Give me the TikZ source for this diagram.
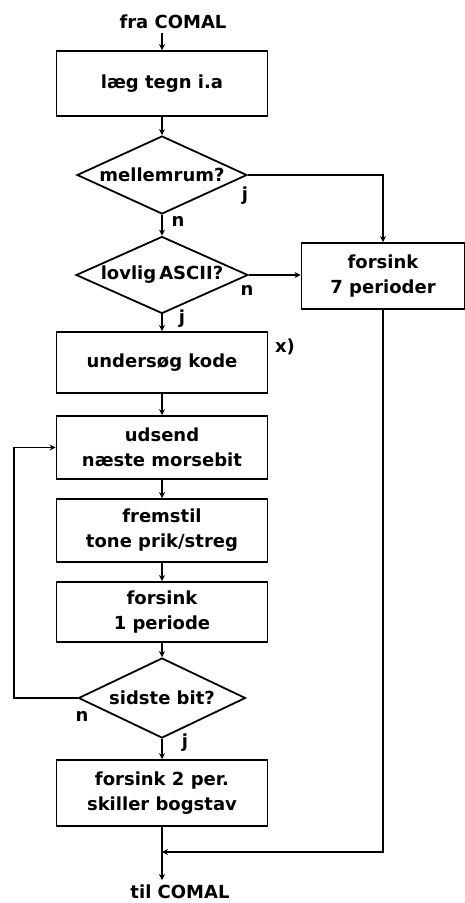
\documentclass[tikz,border=0pt]{standalone}
\usepackage{fontspec}
\setmainfont{DejaVu Sans}
\usetikzlibrary{shapes.geometric,arrows.meta}
\begin{document}
\begin{tikzpicture}[x=1pt,y=-1pt,
  every node/.style={font=\fontsize{18}{25}\selectfont\bfseries},
  box/.style={draw, line width=1.8pt, minimum width=211pt, inner sep=0pt, align=center},
  dec/.style={draw, diamond, line width=1.8pt, inner sep=0pt, shape aspect=2.2, minimum width=170pt, minimum height=78pt},
  lbl/.style={inner sep=0pt},
  line/.style={line width=1.8pt},
  arr/.style={line, -{Stealth[length=6pt,width=6pt]}}]
\useasboundingbox[fill=white] (0,0) rectangle (465,903);
\node (fra) at (173,22) {fra COMAL};
\node[box, minimum height=65pt] (b1) at (162,83.5) {læg tegn i.a};
\node[dec] (d1) at (162,175) {mellemrum?};
\node[dec, minimum width=172pt, minimum height=77pt] (d2) at (162,275) {lovlig\hspace{3pt}ASCII?};
\node[box, minimum width=163pt, minimum height=66pt] (b7) at (383,276) {forsink\\7 perioder};
\node[box, minimum height=61pt] (b2) at (162,362.5) {undersøg kode};
\node[lbl] (x) at (285,347) {x)};
\node[box, minimum height=63pt] (b3) at (162,447.5) {udsend\\næste morsebit};
\node[box, minimum height=63pt] (b4) at (162,530.5) {fremstil\\tone prik/streg};
\node[box, minimum height=60pt] (b5) at (162,612) {forsink\\1 periode};
\node[dec, minimum width=167pt, minimum height=80pt] (d3) at (162,698) {sidste bit?};
\node[box, minimum height=66pt] (b6) at (162,793) {forsink 2 per.\\skiller bogstav};
\coordinate (m) at (162,852);
\coordinate (e) at (162,880);
\coordinate (lp) at (14,447.5);
\node[lbl] (til) at (180,892) {til COMAL};
% labels
\node[lbl] (j1) at (245,196) {j};
\node[lbl] (n1) at (178,221) {n};
\node[lbl] (n2) at (247,290) {n};
\node[lbl] (j2) at (182,319) {j};
\node[lbl] (n3) at (82,716) {n};
\node[lbl] (j3) at (185,743) {j};
% connectors
\draw[arr] (fra.south -| b1.north) -- (b1.north);
\draw[arr] (b1.south) -- (d1.north);
\draw[arr] (d1.south) -- (d2.north);
\draw[arr] (d1.east) -| (b7.north);
\draw[arr] (d2.east) -- (d2.east -| b7.west);
\draw[arr] (d2.south) -- (b2.north);
\draw[arr] (b2.south) -- (b3.north);
\draw[arr] (b3.south) -- (b4.north);
\draw[arr] (b4.south) -- (b5.north);
\draw[arr] (b5.south) -- (d3.north);
\draw[arr] (d3.south) -- (b6.north);
\draw[arr] (d3.west) -- (d3.west -| lp) |- (b3.west);
\draw[arr] (b6.south) -- (e);
\draw[arr] (b7.south) |- (m);
\end{tikzpicture}
\end{document}
